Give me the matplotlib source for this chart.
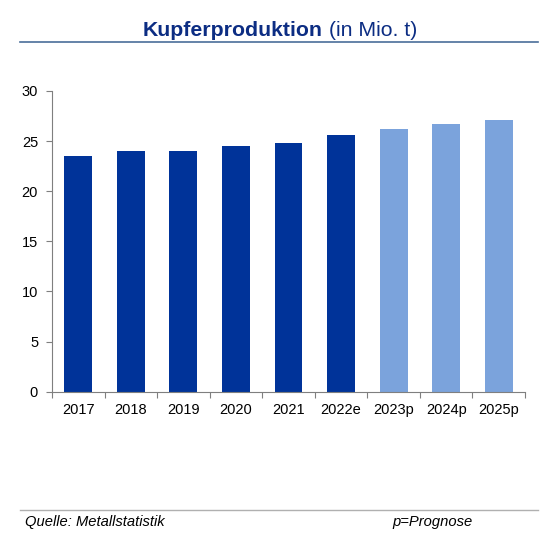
import matplotlib.pyplot as plt
import matplotlib.lines as mlines

plt.rcParams['font.family'] = ['Liberation Sans', 'DejaVu Sans']

# data
years = ['2017', '2018', '2019', '2020', '2021', '2022e', '2023p', '2024p', '2025p']
production = [23.5, 24.0, 24.05, 24.5, 24.8, 25.6, 26.2, 26.7, 27.1]
is_forecast = [False, False, False, False, False, False, True, True, True]

dark_blue = '#003399'
light_blue = '#7BA3DC'
colors = [light_blue if f else dark_blue for f in is_forecast]

fig = plt.figure(figsize=(5.49, 5.41), dpi=100)
ax = fig.add_axes([0.0947, 0.276, 0.8616, 0.556])

x = list(range(len(years)))
ax.bar(x, production, width=0.53, color=colors)

ax.set_xlim(-0.5, len(years) - 0.5)
ax.set_ylim(0, 30)
ax.set_yticks([0, 5, 10, 15, 20, 25, 30])

# ticks on category boundaries, labels centered
ax.set_xticks([i - 0.5 for i in range(len(years) + 1)])
ax.set_xticklabels([])
ax.set_xticks(x, minor=True)
ax.set_xticklabels(years, minor=True)
ax.tick_params(axis='x', which='minor', length=0, pad=8, labelsize=10.5)
ax.tick_params(axis='x', which='major', length=4, color='#7f7f7f', direction='out')
ax.tick_params(axis='y', length=4, color='#7f7f7f', labelsize=10.5, pad=6)

for s in ['top', 'right']:
    ax.spines[s].set_visible(False)
for s in ['left', 'bottom']:
    ax.spines[s].set_color('#7f7f7f')

# title
t1 = fig.text(143 / 549, 1 - 30 / 541, 'Kupferproduktion', fontsize=15.3, fontweight='bold',
              color='#0c2d83', ha='left', va='center')
ax.annotate(' (in Mio. t)', xy=(1, 0), xycoords=t1, va='bottom', ha='left',
            fontsize=15.3, color='#0c2d83')
fig.add_artist(mlines.Line2D([20 / 549, 538 / 549], [1 - 42 / 541] * 2,
                             color='#4a6e9a', lw=1.2))

# footer
fig.add_artist(mlines.Line2D([20 / 549, 538 / 549], [1 - 510 / 541] * 2,
                             color='#b0b0b0', lw=1))
fig.text(25 / 549, 1 - 522 / 541, 'Quelle: Metallstatistik', fontsize=10.6,
         fontstyle='italic', va='center')
fig.text(392 / 549, 1 - 522 / 541, 'p=Prognose', fontsize=10.6,
         fontstyle='italic', va='center')

plt.savefig('out.png', dpi=100)
